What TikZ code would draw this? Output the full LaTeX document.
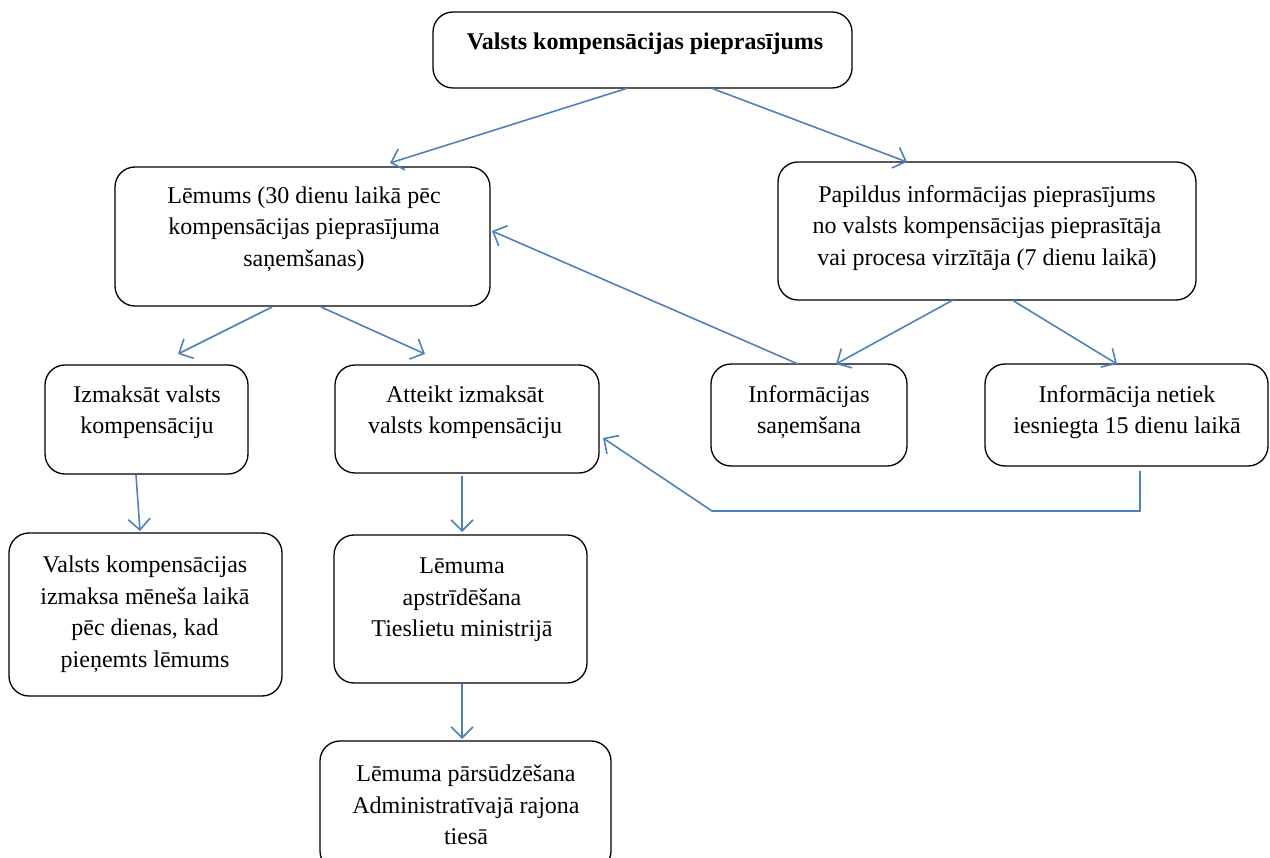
\documentclass[tikz,border=0pt]{standalone}
\usepackage{fontspec}
\setmainfont{Liberation Serif}
\usetikzlibrary{arrows.meta}
\definecolor{linkblue}{HTML}{4F81BD}
\tikzset{
  box/.style={draw=black, line width=1.3pt, rounded corners=20pt, inner sep=0pt},
  txt/.style={align=center, inner sep=0pt, font=\fontsize{24}{31.5}\selectfont},
  link/.style={draw=linkblue, line width=1.6pt, -{Straight Barb[length=11pt,width=22pt,line width=1.6pt]}}
}
\begin{document}
\begin{tikzpicture}[x=1pt,y=-1pt]
\useasboundingbox (0,0) rectangle (1270,858);
% boxes
\node[box, minimum width=419pt, minimum height=76pt] (a) at (642.5,50) {};
\node[box, minimum width=375pt, minimum height=139pt] (b) at (302.5,236.5) {};
\node[box, minimum width=418pt, minimum height=138pt] (c) at (987,231) {};
\node[box, minimum width=203pt, minimum height=109pt] (d) at (146.5,419.5) {};
\node[box, minimum width=264pt, minimum height=108pt] (e) at (467,419) {};
\node[box, minimum width=196pt, minimum height=102pt] (f) at (809,415) {};
\node[box, minimum width=283pt, minimum height=102pt] (g) at (1126.5,415) {};
\node[box, minimum width=273pt, minimum height=163pt] (h) at (145.5,614.5) {};
\node[box, minimum width=253pt, minimum height=148pt] (i) at (460.5,609) {};
\node[box, minimum width=291pt, minimum height=130pt] (j) at (465.5,806) {};
% texts
\node[txt, font=\fontsize{24}{31.5}\selectfont\bfseries] (at) at (645,44) {Valsts kompensācijas pieprasījums};
\node[txt] (bt) at (304,229) {Lēmums (30 dienu laikā pēc\\kompensācijas pieprasījuma\\saņemšanas)};
\node[txt] (ct) at (987,228) {Papildus informācijas pieprasījums\\no valsts kompensācijas pieprasītāja\\vai procesa virzītāja (7 dienu laikā)};
\node[txt] (dt) at (147,412) {Izmaksāt valsts\\kompensāciju};
\node[txt] (et) at (465,412) {Atteikt izmaksāt\\valsts kompensāciju};
\node[txt] (ft) at (809,412) {Informācijas\\saņemšana};
\node[txt] (gt) at (1127,412) {Informācija netiek\\iesniegta 15 dienu laikā};
\node[txt] (ht) at (145,614) {Valsts kompensācijas\\izmaksa mēneša laikā\\pēc dienas, kad\\pieņemts lēmums};
\node[txt] (it) at (462,600) {Lēmuma\\apstrīdēšana\\Tieslietu ministrijā};
\node[txt] (jt) at (466,805) {Lēmuma pārsūdzēšana\\Administratīvajā rajona\\tiesā};
% connector end points
\coordinate (a1) at (628,88);
\coordinate (a2) at (711,88);
\coordinate (b1) at (272,307);
\coordinate (b2) at (321,307);
\coordinate (c1) at (953,300);
\coordinate (c2) at (1012,300);
\coordinate (f1) at (798,364);
\coordinate (bin) at (492,231);
\coordinate (bn) at (390,163);
\coordinate (cn) at (907,162);
\coordinate (dn) at (178,354);
\coordinate (en) at (425,354);
\coordinate (fn) at (836,364);
\coordinate (gn) at (1117,364);
\coordinate (d1) at (136,475);
\coordinate (hn) at (140,531);
\coordinate (e1) at (462,476);
\coordinate (inn) at (462,532);
\coordinate (i1) at (462,684);
\coordinate (jn) at (462,739);
\coordinate (g1) at (1140,471);
\coordinate (k1) at (1140,511);
\coordinate (k2) at (712,511);
\coordinate (ein) at (603,438);
% connectors
\draw[link] (a1) -- (bn);
\draw[link] (a2) -- (cn);
\draw[link] (b1) -- (dn);
\draw[link] (b2) -- (en);
\draw[link] (f1) -- (bin);
\draw[link] (c1) -- (fn);
\draw[link] (c2) -- (gn);
\draw[link] (d1) -- (hn);
\draw[link] (e1) -- (inn);
\draw[link] (i1) -- (jn);
\draw[link] (g1) -- (k1) -- (k2) -- (ein);
\end{tikzpicture}
\end{document}
